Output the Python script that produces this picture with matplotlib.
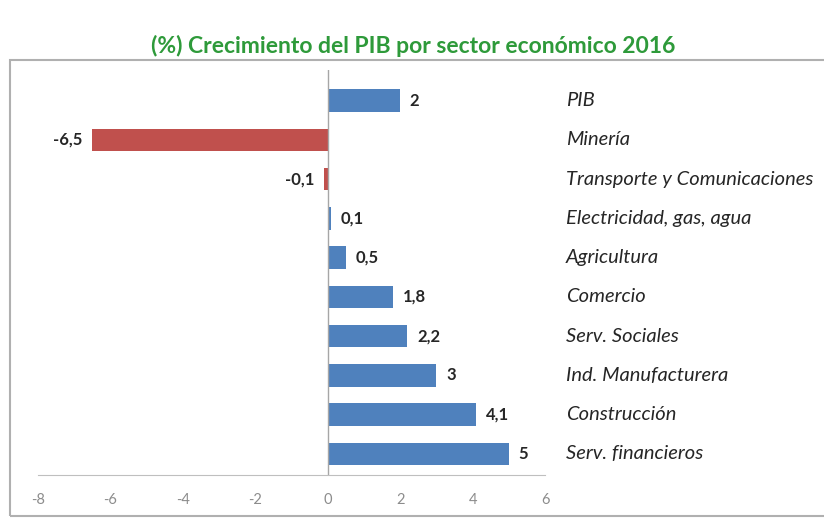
import matplotlib.pyplot as plt
from matplotlib.patches import Rectangle

plt.rcParams['font.family'] = ['Lato', 'DejaVu Sans']

sectores = ['PIB', 'Minería', 'Transporte y Comunicaciones', 'Electricidad, gas, agua',
            'Agricultura', 'Comercio', 'Serv. Sociales', 'Ind. Manufacturera',
            'Construcción', 'Serv. financieros']
crecimiento = [2, -6.5, -0.1, 0.1, 0.5, 1.8, 2.2, 3, 4.1, 5]
etiquetas = ['2', '-6,5', '-0,1', '0,1', '0,5', '1,8', '2,2', '3', '4,1', '5']
ticks = [-8, -6, -4, -2, 0, 2, 4, 6]

azul = '#4F81BD'
rojo = '#C0504D'

fig = plt.figure(figsize=(8.24, 5.18), dpi=100)

# marco gris alrededor del grafico
fig.patches.append(Rectangle((10 / 824, 2 / 518), 830 / 824, 456 / 518,
                             transform=fig.transFigure, fill=False,
                             edgecolor='#b0b0b0', linewidth=1.5))

fig.text(0.502, 0.912, '(%) Crecimiento del PIB por sector económico 2016',
         ha='center', va='center', color='#2E9A3A', fontsize=16.5, fontweight='bold')

ax = fig.add_axes([38 / 824, 1 - 475 / 518, 507 / 824, 405 / 518])
pos = list(range(len(sectores)))
colores = [rojo if v < 0 else azul for v in crecimiento]
ax.barh(pos, crecimiento, height=0.57, color=colores)

ax.set_xlim(-8, 6)
ax.set_ylim(9.54, -0.78)
ax.set_xticks(ticks)
ax.set_xticklabels([str(t) for t in ticks], color='#8c8c8c', fontsize=10.5)
ax.set_yticks([])
ax.tick_params(axis='x', length=0, pad=13)
for s in ['top', 'right', 'left']:
    ax.spines[s].set_visible(False)
ax.spines['bottom'].set_color('#bfbfbf')
ax.axvline(0, color='#a6a6a6', linewidth=1)

for i, (v, t) in enumerate(zip(crecimiento, etiquetas)):
    if v < 0:
        ax.annotate(t, (v, i), xytext=(-7, 0), textcoords='offset points',
                    ha='right', va='center', fontsize=12, fontweight='bold', color='#262626')
    else:
        ax.annotate(t, (v, i), xytext=(7, 0), textcoords='offset points',
                    ha='left', va='center', fontsize=12, fontweight='bold', color='#262626')
    ax.annotate(sectores[i], (1, i), xycoords=('axes fraction', 'data'),
                xytext=(15, 0), textcoords='offset points', ha='left', va='center',
                fontsize=14.5, style='italic', color='#262626')

fig.savefig('out.png', dpi=100)
